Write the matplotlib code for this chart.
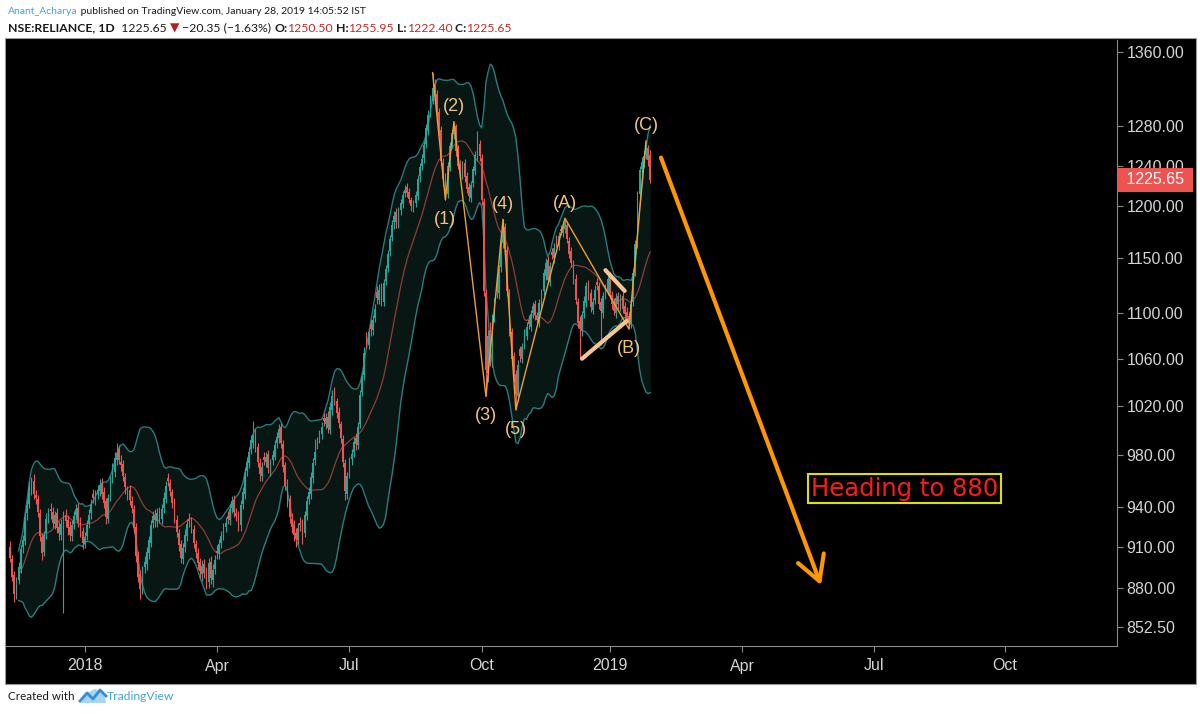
import numpy as np
import pandas as pd
import matplotlib
matplotlib.use('Agg')
import matplotlib.pyplot as plt
from matplotlib import ticker, transforms, font_manager
from matplotlib.patches import Rectangle, Polygon
from matplotlib.lines import Line2D

# daily bars NSE:RELIANCE, Nov 2017 - 28 Jan 2019 (bar index on x)
opens = [
    910, 901, 889, 875, 886, 894, 910, 914, 935, 942,
    953, 960, 949, 946, 935, 917, 906, 920, 932, 938,
    936, 927, 935, 925, 919, 925, 934, 930, 925, 918,
    927, 934, 939, 929, 922, 912, 918, 927, 935, 950,
    945, 950, 952, 958, 951, 944, 931, 948, 962, 967,
    976, 985, 975, 973, 963, 949, 953, 944, 938, 925,
    904, 890, 880, 895, 897, 905, 913, 928, 934, 929,
    936, 931, 939, 946, 962, 958, 951, 944, 930, 920,
    912, 901, 910, 918, 931, 928, 923, 912, 905, 899,
    890, 897, 892, 884, 899, 886, 894, 907, 905, 913,
    919, 925, 933, 930, 939, 945, 935, 934, 926, 942,
    950, 968, 974, 985, 990, 998, 987, 974, 964, 979,
    975, 981, 968, 976, 979, 990, 994, 1003, 989, 972,
    958, 946, 931, 926, 920, 915, 928, 927, 920, 933,
    946, 950, 962, 976, 991, 994, 997, 1010, 1005, 1011,
    1000, 1017, 1030, 1024, 1015, 1005, 993, 974, 950, 966,
    977, 983, 994, 988, 1005, 1032, 1046, 1079, 1072, 1090,
    1085, 1096, 1119, 1112, 1123, 1110, 1129, 1141, 1157, 1170,
    1184, 1194, 1183, 1196, 1202, 1213, 1219, 1214, 1206, 1198,
    1203, 1210, 1229, 1240, 1248, 1262, 1276, 1294, 1307, 1325,
    1314, 1295, 1276, 1243, 1228, 1212, 1238, 1262, 1272, 1280,
    1257, 1242, 1230, 1243, 1229, 1219, 1208, 1223, 1234, 1249,
    1262, 1248, 1204, 1118, 1048, 1085, 1058, 1097, 1125, 1118,
    1142, 1164, 1180, 1158, 1118, 1083, 1062, 1047, 1028, 1068,
    1060, 1072, 1080, 1094, 1088, 1100, 1108, 1097, 1092, 1107,
    1120, 1134, 1148, 1128, 1156, 1150, 1168, 1162, 1178, 1174,
    1178, 1182, 1166, 1157, 1144, 1131, 1110, 1093, 1084, 1100,
    1109, 1126, 1118, 1103, 1112, 1128, 1124, 1110, 1100, 1117,
    1120, 1133, 1116, 1110, 1100, 1115, 1106, 1115, 1106, 1101,
    1097, 1090, 1110, 1138, 1165, 1212, 1236, 1242, 1252, 1258, 1250.50]
highs = [
    914, 904, 892, 888, 899, 911, 919, 936, 946, 960,
    963, 965, 953, 949, 938, 920, 922, 935, 939, 943,
    940, 937, 939, 929, 931, 937, 938, 934, 929, 930,
    937, 942, 943, 932, 925, 921, 930, 938, 946, 954,
    953, 957, 961, 962, 955, 947, 950, 964, 974, 983,
    990, 988, 980, 976, 966, 956, 957, 948, 941, 928,
    907, 893, 896, 903, 910, 918, 930, 937, 938, 939,
    940, 942, 951, 960, 966, 961, 954, 947, 934, 923,
    915, 913, 923, 931, 935, 932, 926, 915, 909, 902,
    900, 901, 895, 902, 903, 897, 904, 911, 916, 922,
    928, 932, 937, 942, 948, 949, 939, 937, 945, 955,
    970, 979, 987, 996, 1008, 1001, 990, 978, 975, 983,
    983, 984, 977, 984, 992, 999, 1005, 1006, 992, 975,
    961, 949, 935, 930, 924, 928, 932, 931, 937, 948,
    955, 967, 978, 993, 995, 1000, 1007, 1014, 1014, 1016,
    1023, 1033, 1036, 1027, 1019, 1008, 996, 977, 967, 979,
    985, 995, 998, 1007, 1033, 1049, 1070, 1083, 1087, 1095,
    1098, 1108, 1124, 1126, 1127, 1131, 1144, 1158, 1172, 1186,
    1195, 1198, 1199, 1207, 1215, 1221, 1223, 1218, 1209, 1206,
    1215, 1230, 1243, 1252, 1265, 1283, 1297, 1313, 1337, 1330,
    1318, 1299, 1280, 1248, 1232, 1244, 1264, 1277, 1285, 1283,
    1261, 1246, 1245, 1247, 1233, 1223, 1225, 1240, 1255, 1275,
    1266, 1252, 1208, 1122, 1085, 1092, 1099, 1114, 1130, 1144,
    1169, 1187, 1183, 1162, 1122, 1087, 1066, 1050, 1059, 1071,
    1074, 1086, 1092, 1098, 1103, 1110, 1112, 1101, 1113, 1122,
    1140, 1150, 1152, 1147, 1160, 1164, 1172, 1175, 1182, 1185,
    1188, 1185, 1170, 1161, 1148, 1135, 1114, 1097, 1102, 1115,
    1128, 1130, 1122, 1114, 1125, 1132, 1128, 1114, 1119, 1126,
    1136, 1137, 1120, 1114, 1118, 1119, 1117, 1119, 1110, 1105,
    1101, 1112, 1140, 1167, 1215, 1240, 1249, 1256, 1265, 1261, 1255.95]
lows = [
    899, 885, 870, 872, 883, 891, 905, 911, 930, 939,
    949, 946, 942, 932, 914, 900, 903, 916, 928, 931,
    924, 923, 920, 915, 915, 862, 925, 919, 914, 914,
    923, 930, 925, 917, 908, 909, 915, 924, 931, 943,
    941, 946, 948, 946, 939, 927, 928, 944, 958, 963,
    972, 973, 968, 960, 950, 945, 941, 935, 920, 899,
    884, 872, 876, 891, 893, 901, 910, 924, 925, 925,
    928, 927, 935, 943, 956, 948, 939, 928, 917, 907,
    898, 897, 906, 914, 925, 920, 909, 902, 894, 887,
    885, 887, 879, 880, 883, 881, 890, 901, 901, 909,
    915, 921, 927, 926, 935, 932, 929, 922, 922, 938,
    946, 964, 970, 981, 986, 983, 971, 960, 960, 972,
    971, 966, 964, 972, 976, 986, 990, 986, 967, 953,
    940, 928, 920, 914, 910, 912, 922, 912, 917, 930,
    942, 946, 958, 972, 985, 990, 993, 1004, 1001, 998,
    997, 1013, 1021, 1010, 1002, 990, 971, 945, 946, 962,
    972, 979, 984, 985, 1002, 1028, 1042, 1069, 1068, 1080,
    1081, 1092, 1108, 1108, 1106, 1106, 1125, 1137, 1152, 1166,
    1178, 1179, 1179, 1191, 1198, 1209, 1209, 1203, 1195, 1194,
    1199, 1206, 1224, 1235, 1243, 1258, 1271, 1290, 1303, 1310,
    1291, 1270, 1240, 1220, 1206, 1208, 1234, 1258, 1267, 1250,
    1236, 1228, 1226, 1224, 1213, 1205, 1204, 1219, 1230, 1245,
    1245, 1201, 1115, 1028, 1040, 1054, 1053, 1092, 1114, 1113,
    1137, 1160, 1156, 1115, 1080, 1055, 1040, 1017, 1024, 1057,
    1056, 1068, 1076, 1086, 1084, 1096, 1094, 1090, 1088, 1103,
    1116, 1130, 1126, 1124, 1149, 1146, 1161, 1158, 1172, 1170,
    1174, 1164, 1150, 1142, 1126, 1108, 1087, 1061, 1080, 1096,
    1105, 1112, 1101, 1099, 1108, 1121, 1104, 1072, 1096, 1113,
    1116, 1113, 1104, 1098, 1096, 1104, 1102, 1100, 1095, 1091,
    1086, 1087, 1106, 1134, 1160, 1207, 1230, 1238, 1247, 1240, 1222.40]
closes = [
    902, 888, 876, 884, 895, 908, 915, 932, 941, 955,
    958, 950, 947, 936, 918, 905, 919, 931, 934, 937,
    928, 934, 924, 920, 927, 933, 929, 924, 919, 926,
    933, 938, 928, 921, 913, 917, 926, 934, 941, 947,
    949, 953, 957, 950, 943, 932, 947, 960, 969, 978,
    982, 976, 972, 964, 955, 951, 945, 939, 924, 903,
    888, 879, 893, 899, 906, 915, 926, 933, 930, 935,
    932, 938, 947, 956, 960, 952, 943, 932, 921, 911,
    902, 909, 919, 927, 929, 924, 913, 906, 898, 892,
    896, 891, 885, 898, 887, 893, 900, 905, 912, 918,
    924, 928, 931, 938, 944, 936, 933, 927, 941, 951,
    966, 975, 983, 992, 996, 986, 975, 965, 971, 976,
    979, 970, 974, 980, 988, 995, 1001, 990, 971, 957,
    944, 932, 925, 919, 916, 924, 926, 921, 934, 944,
    951, 963, 974, 983, 989, 996, 1003, 1008, 1010, 1002,
    1019, 1028, 1025, 1014, 1006, 994, 975, 952, 964, 975,
    981, 991, 989, 1003, 1029, 1045, 1065, 1075, 1083, 1086,
    1094, 1104, 1114, 1121, 1112, 1127, 1140, 1154, 1168, 1182,
    1190, 1184, 1195, 1203, 1211, 1216, 1213, 1207, 1200, 1202,
    1211, 1226, 1238, 1247, 1261, 1278, 1292, 1308, 1321, 1316,
    1296, 1274, 1245, 1226, 1214, 1240, 1260, 1273, 1278, 1255,
    1240, 1232, 1241, 1228, 1217, 1210, 1221, 1236, 1251, 1258,
    1250, 1206, 1120, 1050, 1080, 1060, 1095, 1110, 1120, 1140,
    1165, 1183, 1160, 1120, 1085, 1060, 1045, 1030, 1055, 1062,
    1070, 1082, 1088, 1090, 1099, 1106, 1098, 1094, 1109, 1118,
    1136, 1146, 1130, 1143, 1153, 1160, 1165, 1171, 1176, 1180,
    1183, 1168, 1154, 1146, 1130, 1112, 1091, 1086, 1098, 1111,
    1124, 1116, 1105, 1110, 1121, 1125, 1108, 1102, 1115, 1122,
    1131, 1117, 1108, 1102, 1114, 1108, 1113, 1104, 1099, 1095,
    1091, 1108, 1136, 1163, 1211, 1235, 1244, 1250, 1256, 1246, 1225.65]

# x axis labels (bar index of first session of the month, future ones projected)
tick_bars = [35, 97, 159, 221, 281, 343, 405, 466]
tick_labels = ['2018', 'Apr', 'Jul', 'Oct', '2019', 'Apr', 'Jul', 'Oct']
price_ticks = [852.5, 880, 910, 940, 980, 1020, 1060, 1100, 1150, 1200, 1240, 1280, 1360]

# elliott wave count: (label, bar, use high?)
wave_pts = [('', 198, True), ('(1)', 204, False), ('(2)', 208, True),
            ('(3)', 223, False), ('(4)', 231, True), ('(5)', 237, False),
            ('(A)', 260, True), ('(B)', 290, False), ('(C)', 298, True)]
tri_upper = [(279, 1139), (288, 1120)]
tri_lower = [(268, 1060), (289, 1093)]
arrow_start = (305, 1248)
arrow_end = (380, 882)
target_text = 'Heading to 880'
target_pos = (419, 954)

plt.rcParams['font.family'] = ['Liberation Sans', 'DejaVu Sans']

W, H = 1200, 714
fig = plt.figure(figsize=(12, 7.14), dpi=100, facecolor='white')
fig.add_artist(Rectangle((5 / W, 1 - 684 / H), 1191 / W, 646 / H, transform=fig.transFigure,
                         facecolor='black', edgecolor='#9a9a9a', lw=0.8, zorder=-1))

ax = fig.add_axes([6 / W, 1 - 646 / H, 1111 / W, 606 / H])
ax.set_facecolor('black')
ax.set_yscale('log')
ax.set_ylim(839.5, 1373)
ax.set_xlim(-1.9, 518.7)

o = np.array(opens, float)
h = np.array(highs, float)
l = np.array(lows, float)
c = np.array(closes, float)
idx = np.arange(len(c))

# bollinger bands 20, 2
s = pd.Series(c)
mid = s.rolling(20, min_periods=5).mean()
sd = s.rolling(20, min_periods=5).std(ddof=0)
bb_up = mid + 2 * sd
bb_lo = mid - 2 * sd
ax.fill_between(idx, bb_lo, bb_up, color='#17403c', alpha=0.35, lw=0, zorder=1)
ax.plot(idx, bb_up, color='#2f9090', lw=1, alpha=0.85, zorder=2)
ax.plot(idx, bb_lo, color='#2f9090', lw=1, alpha=0.85, zorder=2)
ax.plot(idx, mid, color='#a8443c', lw=0.9, alpha=0.85, zorder=2)

# candles
cols = np.where(c >= o, '#26a69a', '#ef5350')
ax.vlines(idx, l, h, colors=cols, lw=0.8, zorder=3)
ax.bar(idx, np.maximum(np.abs(c - o), 0.8), bottom=np.minimum(o, c), width=0.8,
       color=cols, lw=0, zorder=4)

# wave lines and labels
wx = [b for _, b, _ in wave_pts]
wy = [h[b] if hi else l[b] for _, b, hi in wave_pts]
ax.plot(wx, wy, color='#f0a030', lw=1, zorder=5)
for (lab, b, hi), y in zip(wave_pts, wy):
    if lab:
        ax.annotate(lab, (b, y), xytext=(0, 11 if hi else -14), textcoords='offset points',
                    ha='center', va='center', color='#f4c27f', fontsize=13, zorder=6)

for seg in (tri_upper, tri_lower):
    ax.plot([p[0] for p in seg], [p[1] for p in seg], color='#f7c590', lw=3,
            solid_capstyle='round', zorder=5)

ax.annotate('', xy=arrow_end, xytext=arrow_start,
            arrowprops=dict(arrowstyle='->,head_length=0.8,head_width=0.45', color='#ff9800',
                            lw=3, mutation_scale=22, shrinkA=0, shrinkB=0), zorder=6)
ax.text(target_pos[0], target_pos[1], target_text, color='#ff1a1a', fontsize=17.5,
        family='DejaVu Sans', ha='center', va='center', zorder=7,
        bbox=dict(boxstyle='square,pad=0.12', fc='black', ec='#e0e000', lw=1.5))

# axes styling
ax.yaxis.tick_right()
ax.set_yticks(price_ticks)
ax.set_yticklabels([f'{v:.2f}' for v in price_ticks])
ax.yaxis.set_minor_locator(ticker.NullLocator())
ax.yaxis.set_minor_formatter(ticker.NullFormatter())
ax.set_xticks(tick_bars)
ax.set_xticklabels(tick_labels)
ax.tick_params(axis='y', colors='#8a8a8a', labelcolor='#d4d4d4', length=4, width=0.8,
               pad=3, labelsize=11.5)
ax.tick_params(axis='x', colors='#8a8a8a', labelcolor='#d4d4d4', length=4, width=0.8,
               pad=5, labelsize=11.5)
for sp in ['left', 'top']:
    ax.spines[sp].set_visible(False)
for sp in ['right', 'bottom']:
    ax.spines[sp].set_color('#8a8a8a')

# last price tag
tr = transforms.blended_transform_factory(ax.transAxes, ax.transData)
ax.text(1.0 + 5 / 1111, c[-1], f' {c[-1]:.2f} ', transform=tr, ha='left', va='center',
        color='white', fontsize=11.5, clip_on=False, zorder=8,
        bbox=dict(boxstyle='square,pad=0.3', fc='#ef5350', ec='none'))

# header / footer
renderer = fig.canvas.get_renderer()
names = {f.name for f in font_manager.fontManager.ttflist}
hfont = 'Lato' if 'Lato' in names else 'Liberation Sans'


def put_chain(x, y, parts, size):
    arts = []
    for txt, col, bold, fam in parts:
        t = fig.text(x / W, 1 - y / H, txt, fontsize=size, color=col,
                     fontweight='bold' if bold else 'normal', family=fam,
                     ha='left', va='center')
        x = t.get_window_extent(renderer).x1
        arts.append(t)
    return arts, x


def fitted_chain(x, y, parts, x_end, size=9.0):
    arts, end = put_chain(x, y, parts, size)
    for a in arts:
        a.remove()
    arts, end = put_chain(x, y, parts, size * (x_end - x) / (end - x))
    return end


blk, red = '#1a1a1a', '#c62828'
line1 = [('Anant_Acharya', '#3fa6de', False, hfont),
         (' published on TradingView.com, January 28, 2019 14:05:52 IST', blk, False, hfont)]
line2 = [('NSE:RELIANCE, 1D', blk, True, hfont), ('  1225.65 ', blk, False, hfont),
         ('\u25bc', '#b71c1c', False, 'DejaVu Sans'),
         (' \u221220.35 (\u22121.63%) ', blk, False, hfont),
         ('O:', blk, True, hfont), ('1250.50', red, False, hfont),
         (' H:', blk, True, hfont), ('1255.95', red, False, hfont),
         (' L:', blk, True, hfont), ('1222.40', red, False, hfont),
         (' C:', blk, True, hfont), ('1225.65', red, False, hfont)]
fitted_chain(8, 11, line1, 366)
fitted_chain(8, 28, line2, 512)

fitted_chain(8, 697, [('Created with', blk, False, hfont)], 75)
fig.add_artist(Polygon([(81 / W, 1 - 703 / H), (84 / W, 1 - 696 / H), (89 / W, 1 - 692 / H),
                        (95 / W, 1 - 689 / H), (101 / W, 1 - 692 / H), (105 / W, 1 - 697 / H),
                        (106 / W, 1 - 703 / H)], closed=True, transform=fig.transFigure,
                       facecolor='#a6d4f2', edgecolor='none'))
fig.add_artist(Line2D([80 / W, 87 / W, 93 / W, 100 / W, 106 / W],
                      [1 - 701 / H, 1 - 693 / H, 1 - 699 / H, 1 - 690 / H, 1 - 696 / H],
                      transform=fig.transFigure, color='#2f8fd8', lw=2))
fitted_chain(107, 697, [('TradingView', '#3fa6de', False, hfont)], 175)

fig.savefig('out.png', dpi=100, facecolor='white')
